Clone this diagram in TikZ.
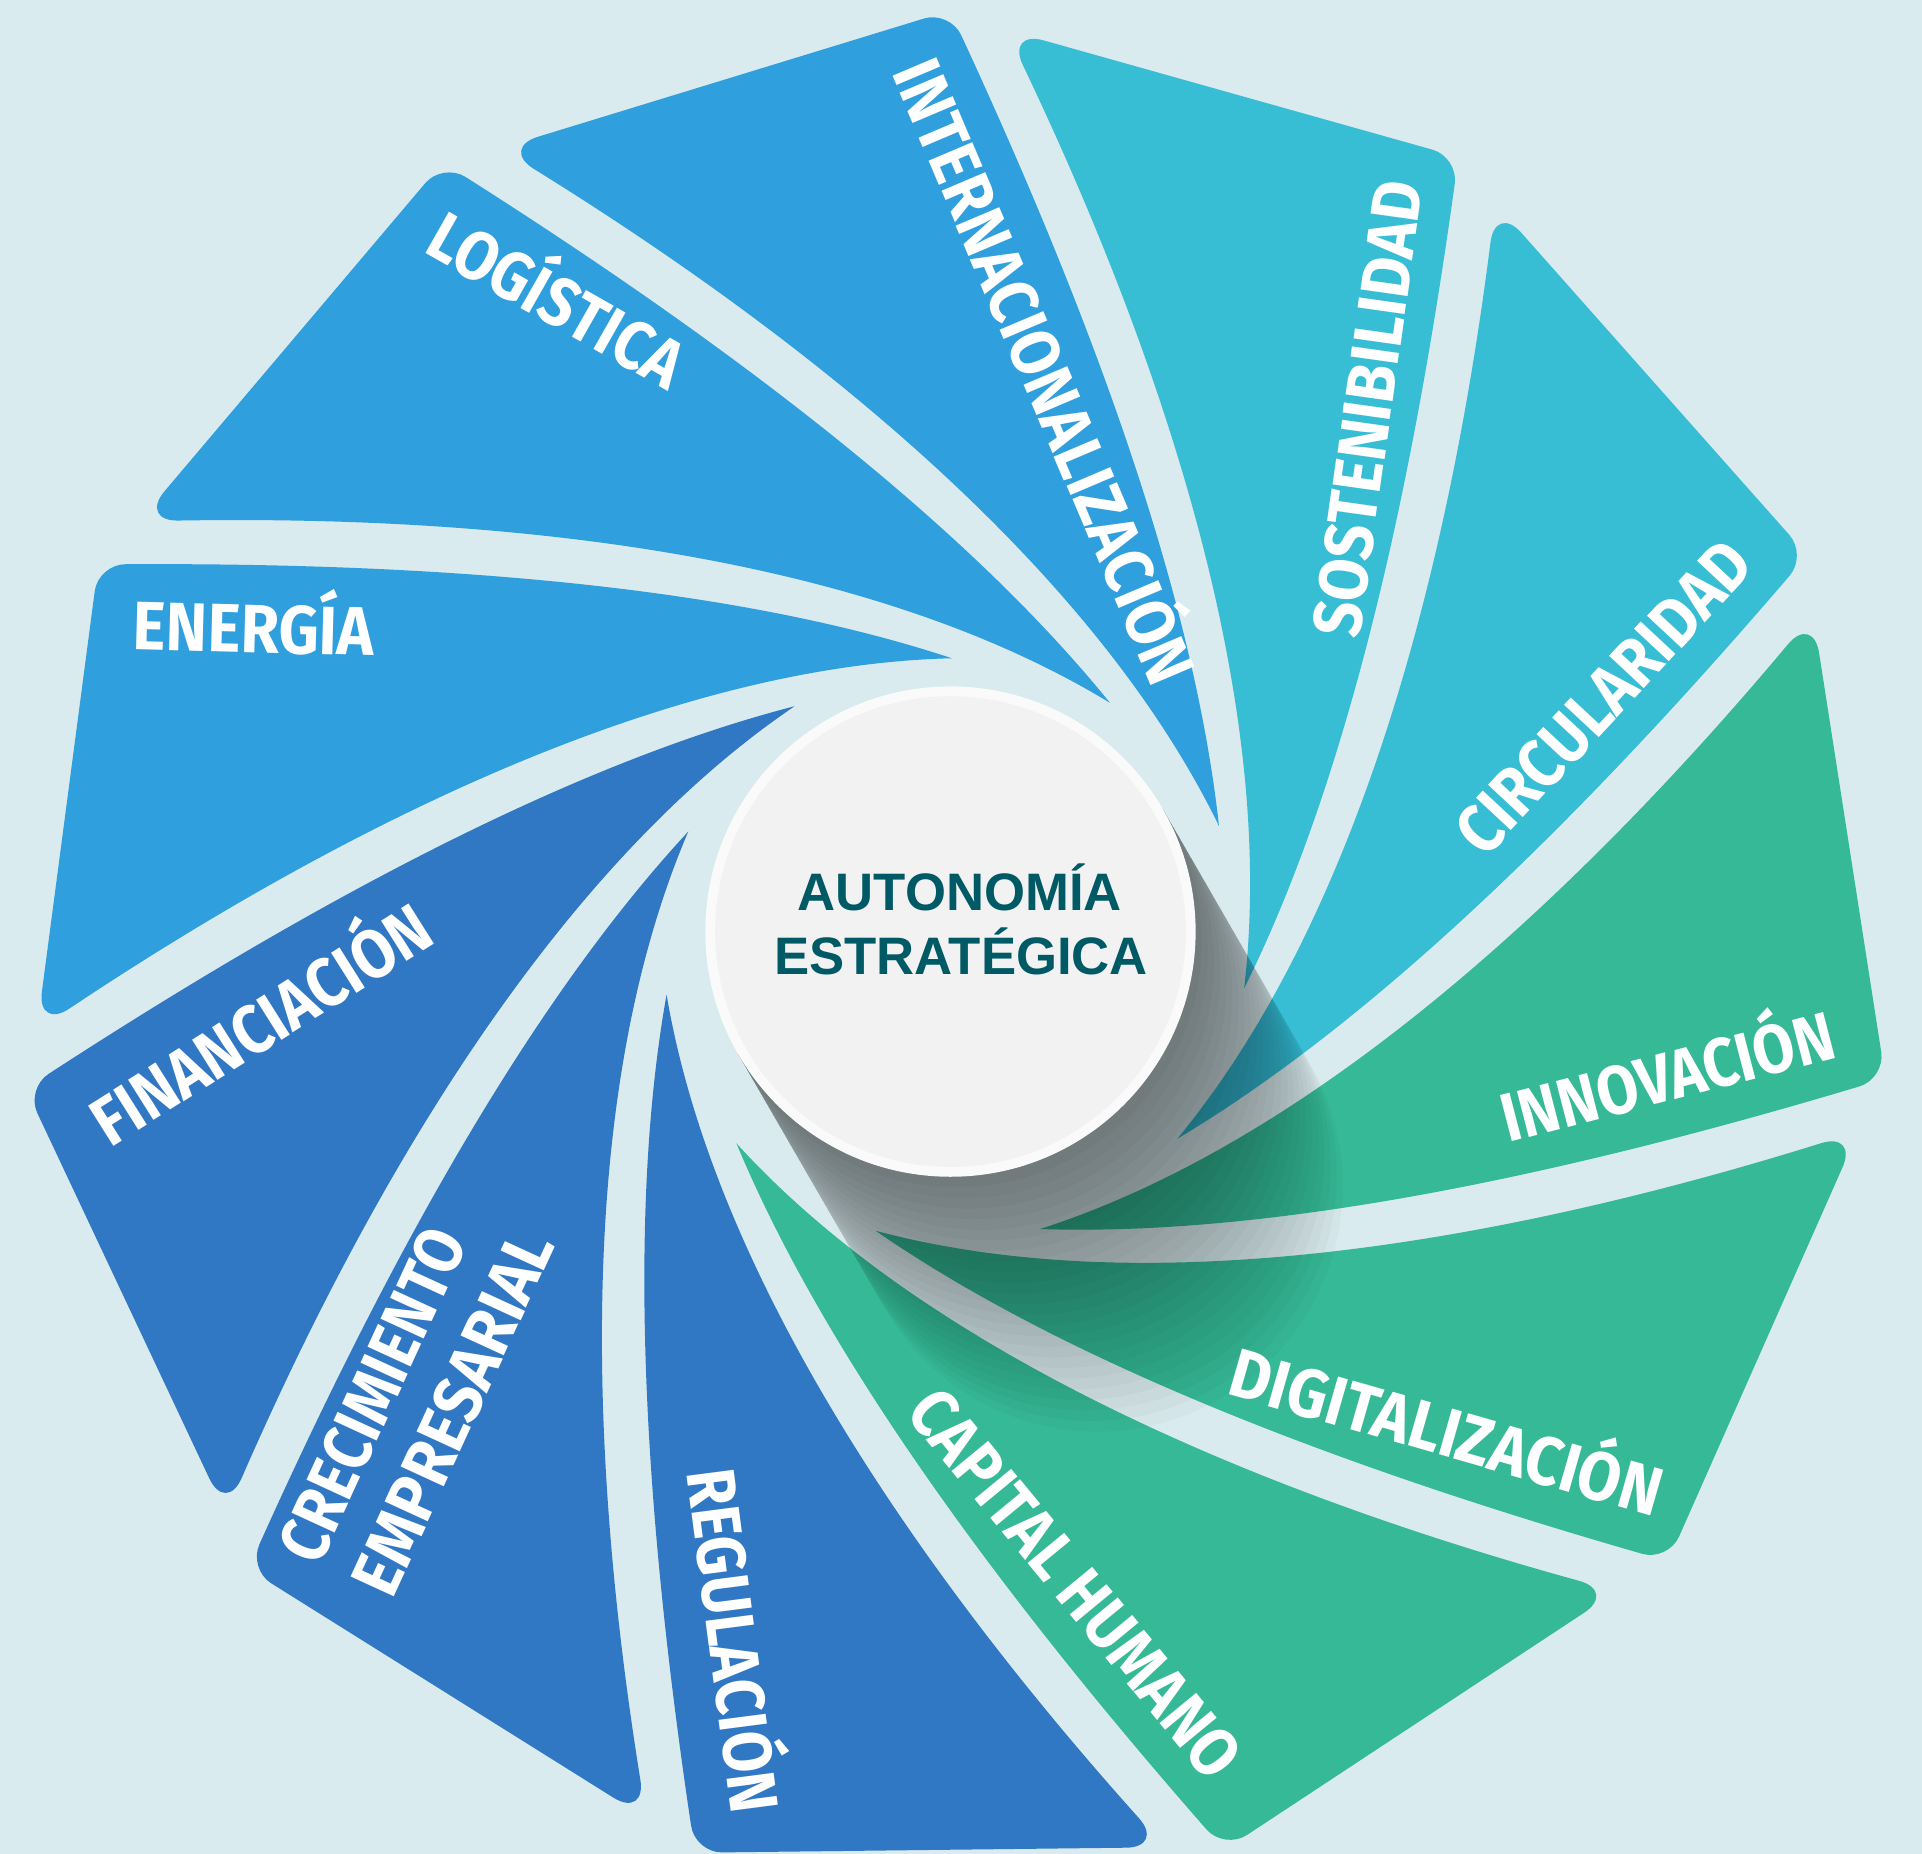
\documentclass[tikz,border=0pt]{standalone}
\usepackage{fontspec}
\usepackage{graphicx}
\usetikzlibrary{calc}
\newfontfamily\labfont{Fira Sans}
\newfontfamily\cenfont{Liberation Sans}
\definecolor{cbg}{HTML}{D9EBEE}
\definecolor{cLB}{HTML}{2F9FDE}
\definecolor{cCY}{HTML}{37BDD4}
\definecolor{cGR}{HTML}{36B996}
\definecolor{cDB}{HTML}{3178C4}
\definecolor{ctext}{HTML}{005A66}
\definecolor{cface}{HTML}{F2F2F2}
\definecolor{crim}{HTML}{FAFAFA}
\newlength\lablen
\newcommand\labstyle{\labfont\bfseries\fontsize{19.5pt}{21pt}\selectfont}
\newcommand\fitlab[2]{\settowidth{\lablen}{\labstyle #2}\pgfmathsetmacro\labsx{(#1)*0.3476/\lablen}\scalebox{\labsx}[1]{\labstyle #2}}
\tikzset{
  lab/.style={anchor=base, inner sep=0pt, text=white},
  centxt/.style={anchor=base, inner sep=0pt, text=ctext, font=\cenfont\bfseries\fontsize{15pt}{18pt}\selectfont}
}
\begin{document}
\begin{tikzpicture}[x=0.12258mm, y=-0.12258mm]
\useasboundingbox (0,0) rectangle (1568,1512.5);
\fill[cbg] (0,0) rectangle (1568,1512.5);
\coordinate (P) at (779,775);
\coordinate (C) at (775.4,760);
% blades
\foreach \k/\col in {0/cLB,1/cLB,2/cLB,3/cCY,4/cCY,5/cGR,6/cGR,7/cGR,8/cDB,9/cDB,10/cDB}{
  \begin{scope}[shift={(P)}, rotate={-32.7273*\k}]
    \fill[\col] (-2.5,-238) .. controls (-251,-232) and (-527,-82.5) .. (-722.4,47.8)
      .. controls (-737,57.6) and (-747.1,51.3) .. (-744.8,33.9) -- (-701.7,-292.8)
      .. controls (-700.1,-304.8) and (-688.9,-314.65) .. (-676.8,-314.7)
      .. controls (-440,-316) and (-190,-300) .. (-2.5,-238) -- cycle;
  \end{scope}
}
% long shadow of the central disc
\foreach \j in {1,...,24}{
  \pgfmathsetmacro\s{10*\j}
  \fill[black, opacity=0.024] ($(C)+(-30:200)$) -- ++(60:\s) arc[start angle=-30, end angle=150, radius=200] -- ($(C)+(150:200)$) -- cycle;
}
% central disc
\fill[crim] (C) circle (200);
\fill[cface] (C) circle (192);
\node[centxt] (t1) at (783,742.4) {AUTONOMÍA};
\node[centxt] (t2) at (784,794.8) {ESTRATÉGICA};
% labels
\node[lab, rotate=-1.5] (energia) at (206.6,532.5) {\fitlab{197}{ENERGÍA}};
\node[lab, rotate=-29.6] (logistica) at (444.6,262.4) {\fitlab{231}{LOGÍSTICA}};
\node[lab, rotate=-67] (internac) at (833.8,310.7) {\fitlab{548}{INTERNACIONALIZACIÓN}};
\node[lab, rotate=82] (sosten) at (1135,336.5) {\fitlab{376}{SOSTENIBILIDAD}};
\node[lab, rotate=47] (circul) at (1322.3,582.2) {\fitlab{326}{CIRCULARIDAD}};
\node[lab, rotate=14.5] (innov) at (1365.5,897.4) {\fitlab{279}{INNOVACIÓN}};
\node[lab, rotate=-16] (digit) at (1174.7,1187.2) {\fitlab{365}{DIGITALIZACIÓN}};
\node[lab, rotate=-50.5] (capital) at (862.2,1304.2) {\fitlab{392}{CAPITAL HUMANO}};
\node[lab, rotate=-82.6] (regul) at (578.6,1340.9) {\fitlab{283}{REGULACIÓN}};
\node[lab, rotate=65.3] (crec) at (321.6,1146.2) {\fitlab{293}{CRECIMIENTO}};
\node[lab, rotate=65.3] (empres) at (386.8,1160.5) {\fitlab{320}{EMPRESARIAL}};
\node[lab, rotate=32.2] (financ) at (223.6,852.4) {\fitlab{317}{FINANCIACIÓN}};
\end{tikzpicture}
\end{document}
